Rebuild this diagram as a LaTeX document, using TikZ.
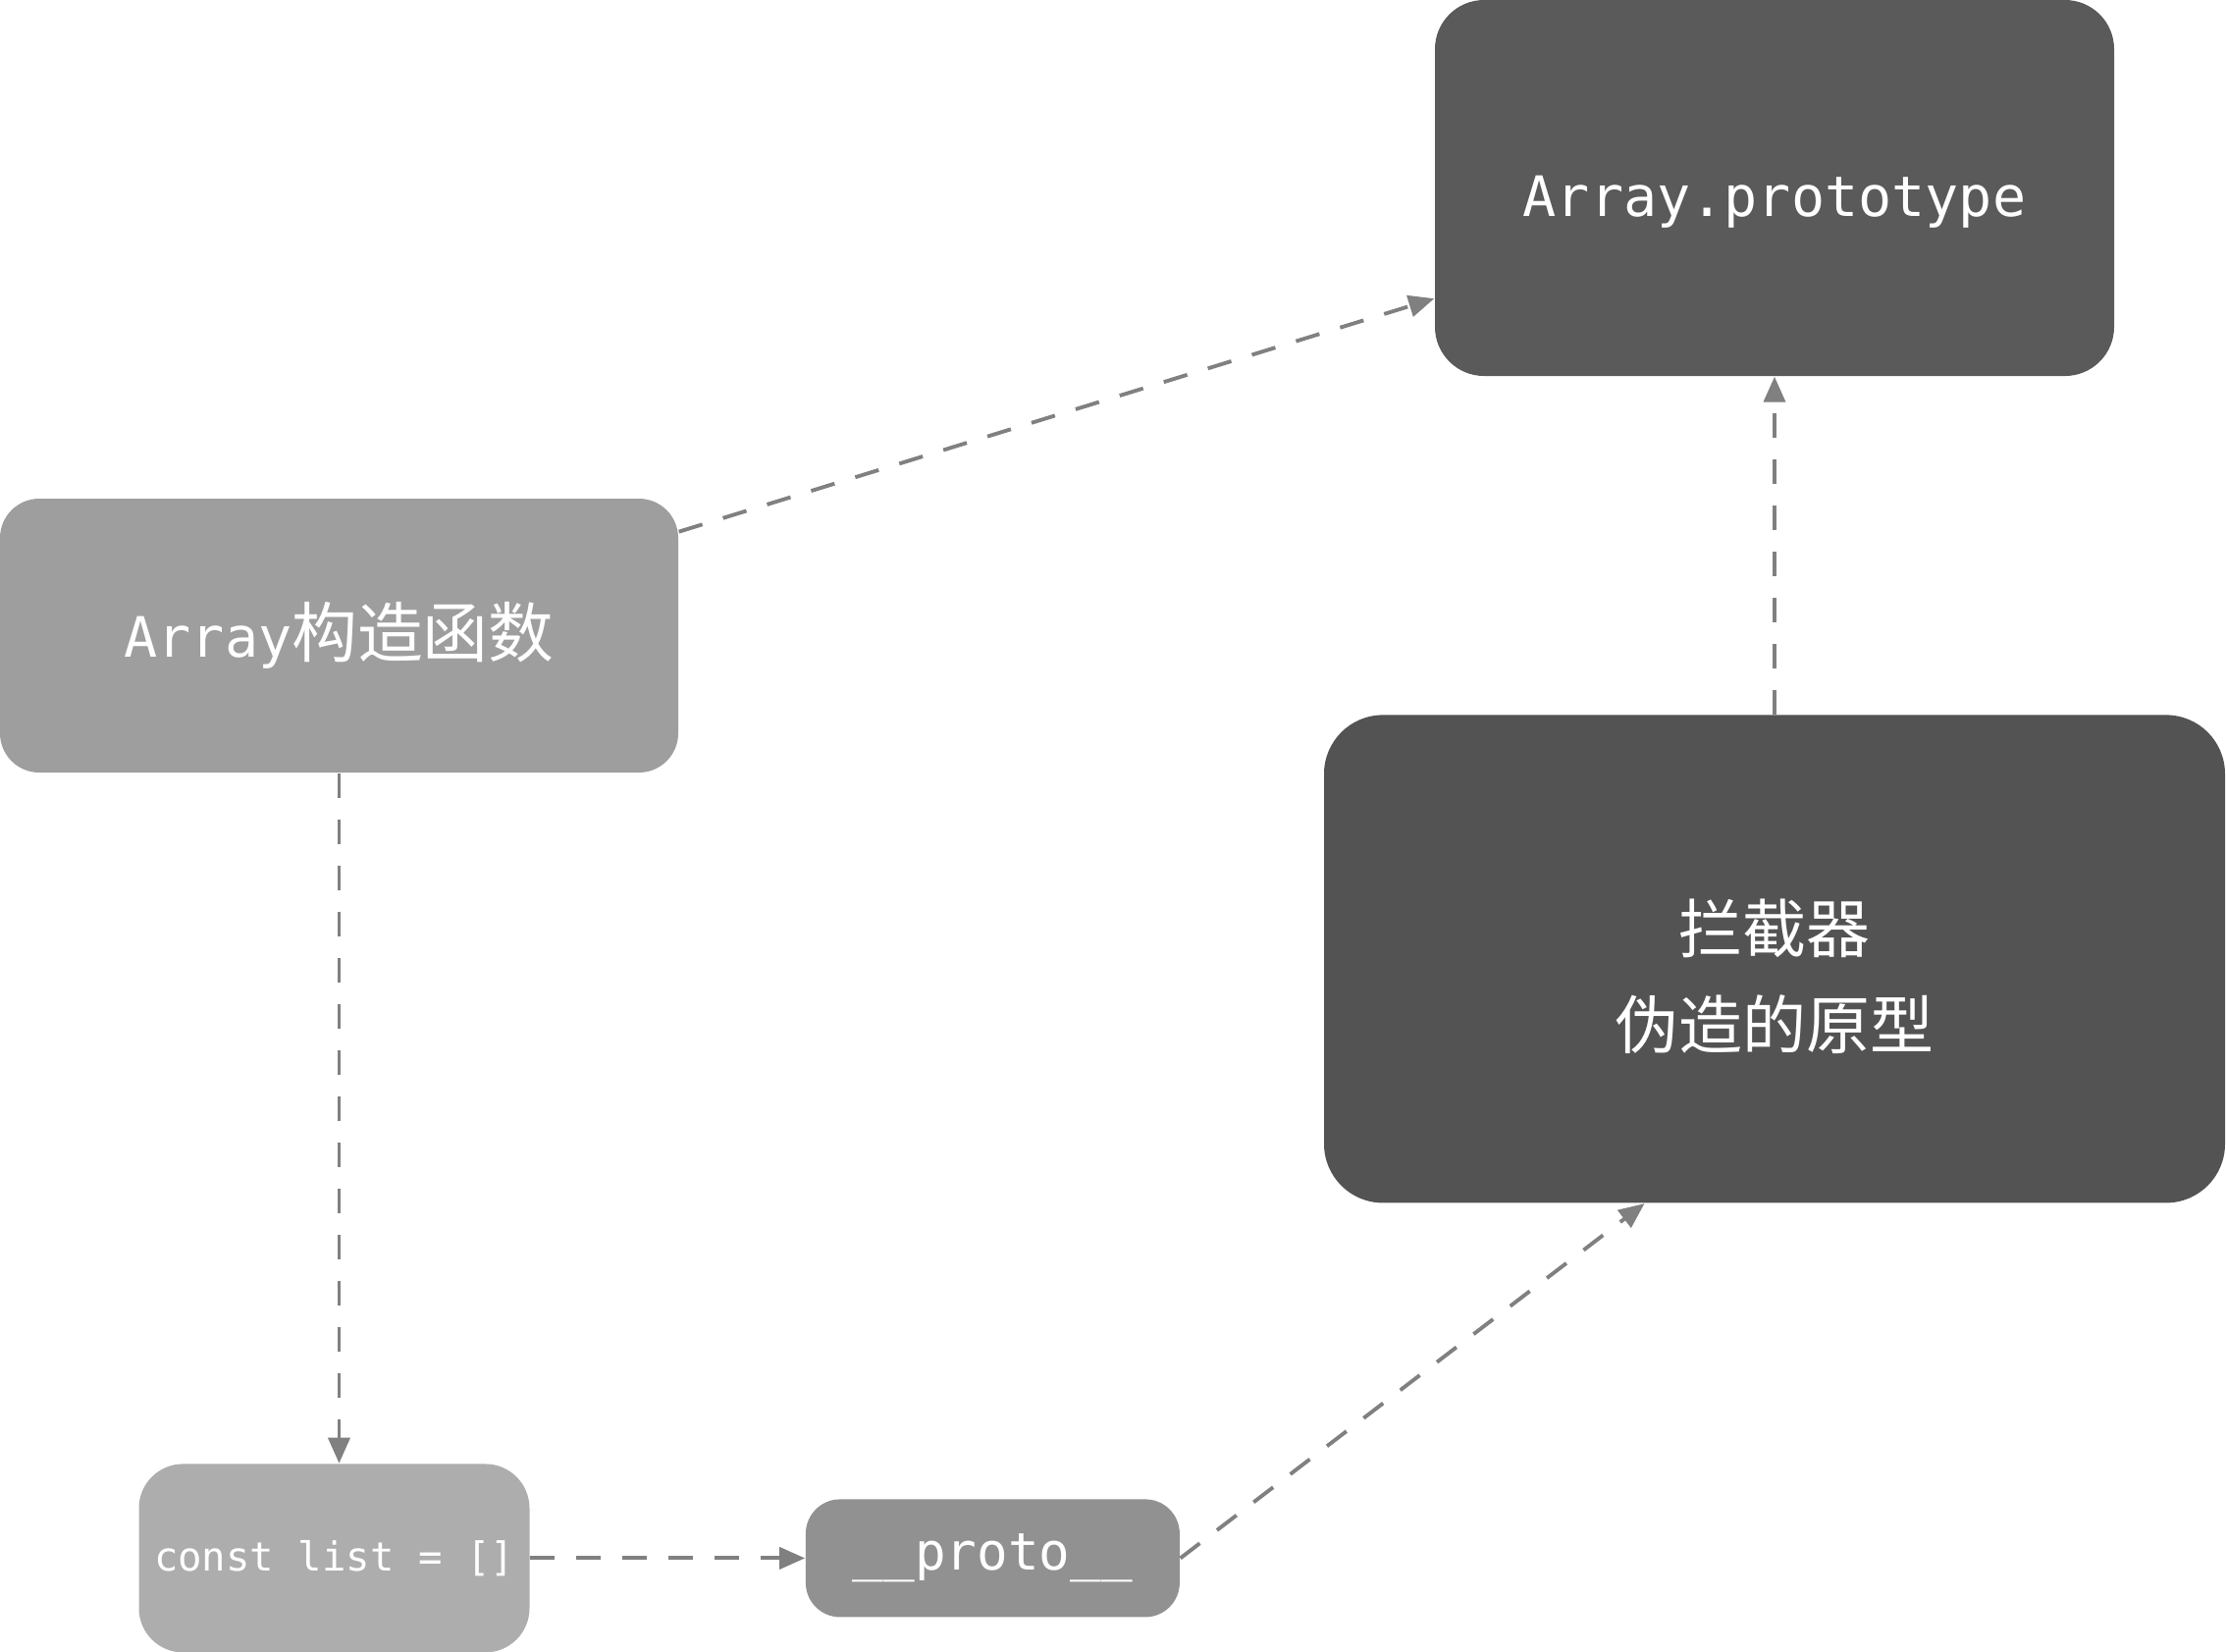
\documentclass[tikz,border=0pt]{standalone}
\usepackage{fontspec}
\setmonofont{DejaVu Sans Mono}[Scale=0.85]
\newfontfamily\cjk{Noto Sans CJK SC}
\usepackage{tikz}
\usetikzlibrary{arrows.meta,positioning}
\definecolor{apFill}{HTML}{5A5A5A}
\definecolor{ctorFill}{HTML}{9E9E9E}
\definecolor{trapFill}{HTML}{535353}
\definecolor{listFill}{HTML}{ADADAD}
\definecolor{protoFill}{HTML}{919191}
\definecolor{arrGrey}{HTML}{808080}

\begin{document}
\begin{tikzpicture}[font=\ttfamily,
  box/.style={rounded corners=5mm, text=white, align=center, inner sep=2pt},
  big/.style={font=\fontsize{19}{24}\selectfont\ttfamily},
  arr/.style={-{Triangle[length=2.6mm,width=2.2mm]}, draw=arrGrey, line width=1.1pt, dash pattern=on 2.5mm off 2.2mm}]
\useasboundingbox (0,0) rectangle (22.68,-16.82);
\node[box, big, fill=apFill, minimum width=6.92cm, minimum height=3.83cm,
  text height=0.57cm, text depth=0pt] (ap) at (18.08,-1.915) {Array.prototype};
\node[box, big, fill=ctorFill, minimum width=6.91cm, minimum height=2.79cm, rounded corners=4mm,
  text height=0.5cm, text depth=0.06cm] (ctor) at (3.455,-6.475) {Array{\cjk 构造函数}};
\node[box, fill=trapFill, minimum width=9.18cm, minimum height=4.97cm, rounded corners=6mm,
  font=\fontsize{18.5}{28}\selectfont\cjk, text height=1.92cm, text depth=0.08cm,
  below=3.44cm of ap] (trap) {拦截器\\伪造的原型};
\node[box, fill=listFill, minimum width=3.98cm, minimum height=1.92cm, rounded corners=4.5mm,
  font=\fontsize{13.6}{16}\selectfont\ttfamily, below=7.03cm of ctor, xshift=-0.05cm] (list) {const list = []};
\node[box, fill=protoFill, minimum width=3.81cm, minimum height=1.2cm, rounded corners=3.5mm,
  font=\fontsize{17.6}{20}\selectfont\ttfamily, right=2.8cm of list] (proto) {\_\_proto\_\_};
\draw[arr] (ctor.17) -- (ap.198);
\draw[arr] (trap.north) -- (ap.south);
\draw[arr] (ctor.south) -- (ctor.south |- list.north);
\draw[arr] (list.east) -- (proto.west);
\draw[arr] (proto.east) -- (trap.242);
\end{tikzpicture}
\end{document}
